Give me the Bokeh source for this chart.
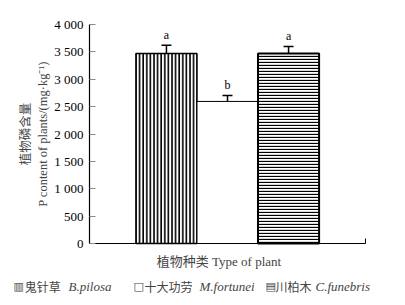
from bokeh.plotting import figure
from bokeh.models import (ColumnDataSource, Range1d, FixedTicker, Whisker, TeeHead, Label)
from bokeh.core.properties import value
from bokeh.embed import file_html
from bokeh.resources import INLINE

# ---- data ----
plants_cn = ["鬼针草", "十大功劳", "川柏木"]
plants_latin = ["B.pilosa", "M.fortunei", "C.funebris"]
p_content = [3470, 2595, 3470]
p_error = [150, 110, 130]
sig_letters = ["a", "b", "a"]
y_ticks = [0, 500, 1000, 1500, 2000, 2500, 3000, 3500, 4000]
y_tick_labels = ["0", "500", "1 000", "1 500", "2 000", "2 500", "3 000", "3 500", "4 000"]

# ---- styles ----
SERIF = "'Liberation Serif', 'Noto Sans CJK SC'"
hatches = ["|", " ", "-"]
hatch_scales = [3.6, 4, 3.0]
hatch_weights = [1.6, 1, 1.3]
outline_w = [1.5, 1.0, 2.0]

xs = list(range(len(p_content)))
src = ColumnDataSource(dict(
    x=xs, top=p_content,
    upper=[v + e for v, e in zip(p_content, p_error)],
    lower=p_content, sig=sig_letters,
    hatch=hatches, hs=hatch_scales, hw=hatch_weights, lw=outline_w,
))

# axis extents (data units); the frame covers the whole canvas so that the
# axis titles and the legend row below the chart are not clipped
AX0, AX1 = -1.26, 3.26
W, H = 389, 297
PX_X = 276 / (AX1 - AX0)          # pixels per x unit
PX_Y = 219 / 4000                 # pixels per y unit
X0 = AX0 - 89 / PX_X
X1 = AX0 + (W - 89) / PX_X
Y1 = 4000 + 24 / PX_Y
Y0 = -(H - 243) / PX_Y

p = figure(frame_width=W, frame_height=H, output_backend="svg", toolbar_location=None,
           x_range=Range1d(X0, X1), y_range=Range1d(Y0, Y1), min_border=0)
p.outline_line_color = None
p.grid.grid_line_color = None
p.background_fill_color = "white"

p.vbar(x="x", top="top", bottom=0, width=1.0, source=src,
       fill_color="white", line_color="black", line_width="lw",
       hatch_pattern="hatch", hatch_scale="hs", hatch_weight="hw", hatch_color="black")

w = Whisker(base="x", upper="upper", lower="lower", source=src,
            upper_head=TeeHead(size=10, line_width=1.5, line_color="black"),
            lower_head=None, line_width=1.5, line_color="black")
p.add_layout(w)

p.text(x="x", y="upper", text="sig", source=src, y_offset=-3,
       text_align="center", text_baseline="bottom",
       text_font=value("Liberation Serif"), text_font_size="12px", text_color="black")

# y axis, pinned at the left end of the x axis
ya = p.yaxis[0]
ya.fixed_location = AX0
ya.bounds = (0, 4000)
ya.ticker = FixedTicker(ticks=y_ticks)
ya.major_label_overrides = {t: l for t, l in zip(y_ticks, y_tick_labels)}
ya.major_tick_in = 6
ya.major_tick_out = 0
ya.major_tick_line_color = "#888888"
ya.minor_tick_line_color = None
ya.major_label_standoff = 6
ya.major_label_text_font = SERIF
ya.major_label_text_font_size = "13px"
ya.major_label_text_color = "black"
ya.axis_line_color = "black"
ya.axis_line_width = 1.2
ya.axis_label = "植物磷含量\nP content of plants/(mg·kg⁻¹)"
ya.axis_label_text_font = SERIF
ya.axis_label_text_font_style = "normal"
ya.axis_label_text_font_size = "12.5px"
ya.axis_label_standoff = 1

# x axis, pinned at y = 0
xa = p.xaxis[0]
xa.fixed_location = 0
xa.bounds = (AX0, AX1)
xa.ticker = FixedTicker(ticks=[AX1])
xa.major_label_overrides = {AX1: ""}
xa.major_label_text_font_size = "0px"
xa.major_tick_in = 5
xa.major_tick_out = 0
xa.major_tick_line_color = "black"
xa.minor_tick_line_color = None
xa.major_label_standoff = 0
xa.axis_line_color = "black"
xa.axis_line_width = 1.2

# x-axis title
p.add_layout(Label(x=0.86, y=-329, text="植物种类 Type of plant", text_align="center",
                   text_baseline="middle", text_font=SERIF, text_font_size="13px"))

# legend row (text-based, as in the original figure)
swatches = ["▥", "□", "▤"]
sw_x = [-2.505, -0.539, 1.622]
cn_x = [-2.32, -0.359, 1.786]
lat_x = [-1.604, 0.541, 2.441]
ly = -787
for sw, sx, cn, cx, la, lx in zip(swatches, sw_x, plants_cn, cn_x, plants_latin, lat_x):
    p.add_layout(Label(x=sx, y=ly, text=sw,
                       text_font="DejaVu Sans", text_font_size="11px", text_baseline="middle"))
    p.add_layout(Label(x=cx, y=ly, text=cn,
                       text_font="Noto Sans CJK SC", text_font_size="12px", text_baseline="middle"))
    p.add_layout(Label(x=lx, y=ly, text=la,
                       text_font="Liberation Serif", text_font_style="italic",
                       text_font_size="13px", text_baseline="middle"))

open("out.html", "w").write(file_html(p, INLINE))
